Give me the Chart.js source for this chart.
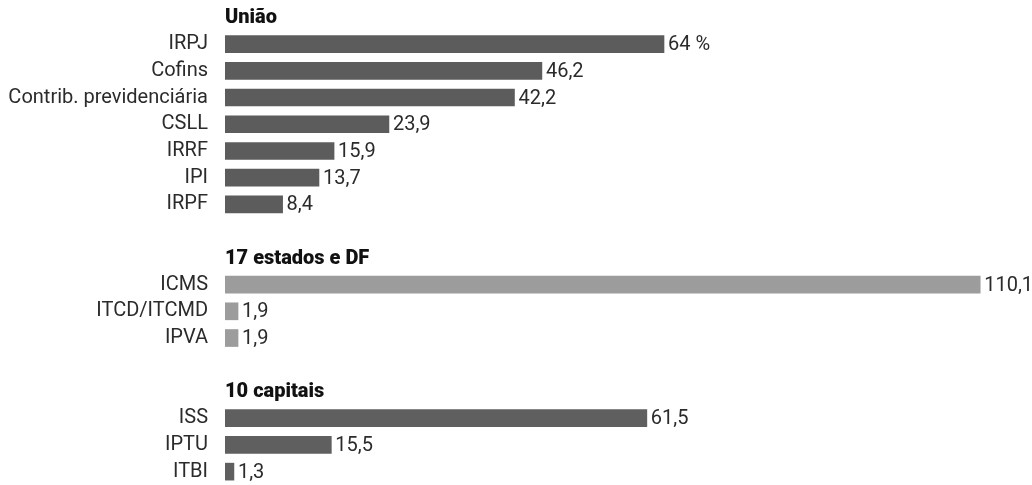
<!DOCTYPE html>
<html lang="pt-BR">
<head>
<meta charset="utf-8">
<script src="https://cdn.jsdelivr.net/npm/chart.js@4/dist/chart.umd.min.js"></script>
<style>
  html, body { margin: 0; padding: 0; background: #fff; }
  #wrap { width: 1032px; height: 485px; position: relative; }
</style>
</head>
<body>
<div id="wrap"><canvas id="chart"></canvas></div>
<script>
// ── dados ──────────────────────────────────────────
const groupTitles    = ['União', '17 estados e DF', '10 capitais'];
const uniaoLabels    = ['IRPJ', 'Cofins', 'Contrib. previdenciária', 'CSLL', 'IRRF', 'IPI', 'IRPF'];
const uniaoValues    = [64, 46.2, 42.2, 23.9, 15.9, 13.7, 8.4];
const estadosLabels  = ['ICMS', 'ITCD/ITCMD', 'IPVA'];
const estadosValues  = [110.1, 1.9, 1.9];
const capitaisLabels = ['ISS', 'IPTU', 'ITBI'];
const capitaisValues = [61.5, 15.5, 1.3];

const groupColors = ['#5c5c5c', '#9c9c9c', '#5f5f5f'];
const FONT = 'Roboto, "Open Sans", sans-serif';

// ── monta as linhas: cabeçalho, itens, espaço ─────
const groups = [
    { labels: uniaoLabels,    values: uniaoValues },
    { labels: estadosLabels,  values: estadosValues },
    { labels: capitaisLabels, values: capitaisValues }
];
const rowLabels = [];
const headerRows = [];   // [slot, titulo]
const datasets = groups.map(() => []);
groups.forEach((g, gi) => {
    headerRows.push([rowLabels.length, groupTitles[gi]]);
    rowLabels.push('');
    datasets.forEach(d => d.push(null));
    g.labels.forEach((lab, i) => {
        rowLabels.push(lab);
        datasets.forEach((d, di) => d.push(di === gi ? g.values[i] : null));
    });
    if (gi < groups.length - 1) {
        rowLabels.push('');
        datasets.forEach(d => d.push(null));
    }
});

function fmtVal(v) {
    return Number.isInteger(v) ? String(v) : v.toFixed(1).replace('.', ',');
}

// rótulos de valor + títulos dos grupos
const annotate = {
    id: 'annotate',
    afterDatasetsDraw(chart) {
        const ctx = chart.ctx;
        const yScale = chart.scales.y;
        ctx.save();
        ctx.textBaseline = 'middle';
        ctx.textAlign = 'left';
        ctx.fillStyle = '#2b2b2b';
        ctx.font = '20px ' + FONT;
        let first = true;
        chart.data.datasets.forEach((ds, di) => {
            const meta = chart.getDatasetMeta(di);
            meta.data.forEach((bar, i) => {
                const v = ds.data[i];
                if (v == null) return;
                let txt = fmtVal(v);
                if (first) { txt += ' %'; first = false; }
                ctx.fillText(txt, bar.x + 4, bar.y + 1);
            });
        });
        ctx.fillStyle = '#111';
        ctx.font = '900 20px ' + FONT;
        headerRows.forEach(([slot, title]) => {
            ctx.fillText(title, chart.chartArea.left, yScale.getPixelForValue(slot) + 1);
        });
        ctx.restore();
    }
};

new Chart(document.getElementById('chart'), {
    type: 'bar',
    data: {
        labels: rowLabels,
        datasets: datasets.map((d, i) => ({
            data: d,
            backgroundColor: groupColors[i],
            barThickness: 17,
            grouped: false,
            borderWidth: 0
        }))
    },
    options: {
        indexAxis: 'y',
        responsive: true,
        maintainAspectRatio: false,
        animation: false,
        layout: { padding: { top: 4, bottom: 0, left: 0, right: 12 } },
        plugins: {
            legend: { display: false },
            tooltip: { enabled: false }
        },
        scales: {
            x: {
                display: false,
                min: 0,
                max: 115.9
            },
            y: {
                grid: { display: false, drawTicks: false },
                border: { display: false },
                ticks: {
                    color: '#2b2b2b',
                    padding: 17,
                    autoSkip: false,
                    font: { family: FONT, size: 20 }
                },
                afterFit(scale) {
                    scale.width = 225;
                    scale.paddingTop = 0;
                    scale.paddingBottom = 0;
                }
            }
        }
    },
    plugins: [annotate]
});
</script>
</body>
</html>
